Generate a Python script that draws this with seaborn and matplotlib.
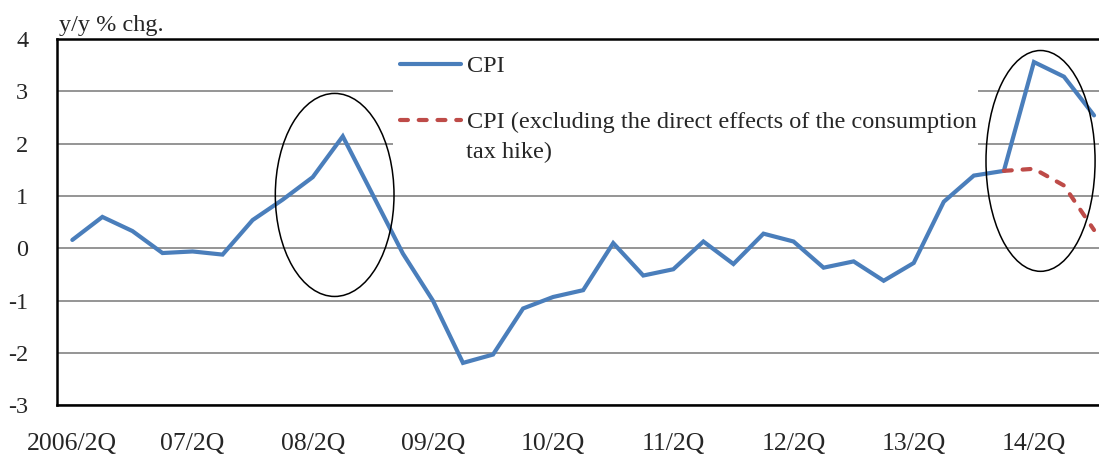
import matplotlib
matplotlib.use("Agg")
import matplotlib.pyplot as plt
from matplotlib.patches import Ellipse, Rectangle
import seaborn as sns
import pandas as pd

# Quarterly categories, 2006/2Q through 2014/4Q
quarters = [
    "2006/2Q", "06/3Q", "06/4Q", "07/1Q", "07/2Q", "07/3Q", "07/4Q",
    "08/1Q", "08/2Q", "08/3Q", "08/4Q", "09/1Q", "09/2Q", "09/3Q", "09/4Q",
    "10/1Q", "10/2Q", "10/3Q", "10/4Q", "11/1Q", "11/2Q", "11/3Q", "11/4Q",
    "12/1Q", "12/2Q", "12/3Q", "12/4Q", "13/1Q", "13/2Q", "13/3Q", "13/4Q",
    "14/1Q", "14/2Q", "14/3Q", "14/4Q",
]

# CPI, y/y % chg.
cpi = [
    0.16, 0.60, 0.33, -0.09, -0.06, -0.12, 0.54, 0.93, 1.36, 2.14,
    1.02, -0.10, -1.00, -2.19, -2.03, -1.15, -0.93, -0.80, 0.10, -0.52,
    -0.40, 0.13, -0.30, 0.28, 0.13, -0.37, -0.25, -0.62, -0.28, 0.89,
    1.39, 1.48, 3.56, 3.28, 2.54,
]

# CPI excluding the direct effects of the consumption tax hike (from 14/1Q)
cpi_ex_tax_quarters = ["14/1Q", "14/2Q", "14/3Q", "14/4Q"]
cpi_ex_tax = [1.48, 1.52, 1.20, 0.35]

# Labelled quarters on the horizontal axis
tick_labels = ["2006/2Q", "07/2Q", "08/2Q", "09/2Q", "10/2Q",
               "11/2Q", "12/2Q", "13/2Q", "14/2Q"]

y_ticks = [-3, -2, -1, 0, 1, 2, 3, 4]

label_cpi = "CPI"
label_ex_1 = "CPI (excluding the direct effects of the consumption"
label_ex_2 = "tax hike)"
y_title = "y/y % chg."

# ---------------------------------------------------------------------------
sns.set_style("white")
plt.rcParams["font.family"] = ["Liberation Serif", "DejaVu Serif"]
plt.rcParams["mathtext.default"] = "regular"

BLUE = "#4A7EBB"
RED = "#BE4B48"
FS = 17.5
FS_X = 18.5

W, H = 1099, 455
fig = plt.figure(figsize=(W / 100, H / 100), dpi=100)


def fx(px):
    return px / W


def fy(py):
    return 1 - py / H


ax_left, ax_top, ax_bottom = 57.3, 39.0, 405.3
ax_right = ax_left + 35 * 30.05
ax = fig.add_axes([fx(ax_left), fy(ax_bottom),
                   fx(ax_right - ax_left), (ax_bottom - ax_top) / H])

pos = {q: i for i, q in enumerate(quarters)}
df_cpi = pd.DataFrame({"x": [pos[q] for q in quarters], "value": cpi})
df_ex = pd.DataFrame({"x": [pos[q] for q in cpi_ex_tax_quarters],
                      "value": cpi_ex_tax})

sns.lineplot(data=df_cpi, x="x", y="value", ax=ax, color=BLUE, lw=3.0,
             solid_joinstyle="miter", solid_capstyle="round",
             label=label_cpi, zorder=3)
sns.lineplot(data=df_ex, x="x", y="value", ax=ax, color=RED, lw=3.0,
             linestyle=(0, (1.9, 2.6)), dash_capstyle="round",
             label=label_ex_1, zorder=3)

ax.set_xlim(-0.5, len(quarters) - 0.5)
ax.set_ylim(-3, 4)
ax.set_xlabel("")
ax.set_ylabel("")

# Tick marks sit on category boundaries every half year; labels every year
ax.set_xticks([i - 0.5 for i in range(0, len(quarters) + 1, 2)])
ax.set_xticklabels([])
ax.set_xticks([pos[q] for q in tick_labels], minor=True)
ax.set_xticklabels(tick_labels, minor=True)
ax.tick_params(axis="x", which="major", direction="out", length=7,
               width=1.4, color="black")
ax.tick_params(axis="x", which="minor", length=0, pad=20, labelsize=FS_X)

ax.set_yticks(y_ticks)
ax.set_yticklabels([str(v) for v in y_ticks])
ax.tick_params(axis="y", direction="out", length=7, width=1.4,
               color="black", pad=14, labelsize=FS)

ax.set_axisbelow(True)
ax.yaxis.grid(True, color="#8C8C8C", lw=1.3)
ax.xaxis.grid(False)
for s in ax.spines.values():
    s.set_visible(True)
    s.set_color("black")
    s.set_linewidth(1.8)

# Highlight ellipses around the two price peaks
ax.add_patch(Ellipse((8.73, 1.02), 3.95, 3.88, fill=False,
                     edgecolor="black", lw=1.1, zorder=4))
ax.add_patch(Ellipse((32.22, 1.67), 3.63, 4.22, fill=False,
                     edgecolor="black", lw=1.1, zorder=4))

# White legend panel
panel = Rectangle((fx(393), fy(169)), fx(978 - 393), (169 - 42) / H,
                  transform=fig.transFigure, facecolor="white",
                  edgecolor="none", zorder=2)
ax.add_patch(panel)

handles, labels = ax.get_legend_handles_labels()
leg = ax.legend(handles, labels, loc="upper left", frameon=False,
                bbox_to_anchor=(fx(393), fy(48)),
                bbox_transform=fig.transFigure,
                fontsize=FS, handlelength=2.5, handletextpad=0.25,
                labelspacing=1.4, borderpad=0.3, borderaxespad=0)
leg.set_zorder(5)

fig.text(fx(466), fy(158), label_ex_2, fontsize=FS, va="baseline",
         ha="left", zorder=6)
fig.text(fx(59), fy(31), y_title, fontsize=FS, va="baseline", ha="left")

fig.savefig("out.png", dpi=100, facecolor="white")
